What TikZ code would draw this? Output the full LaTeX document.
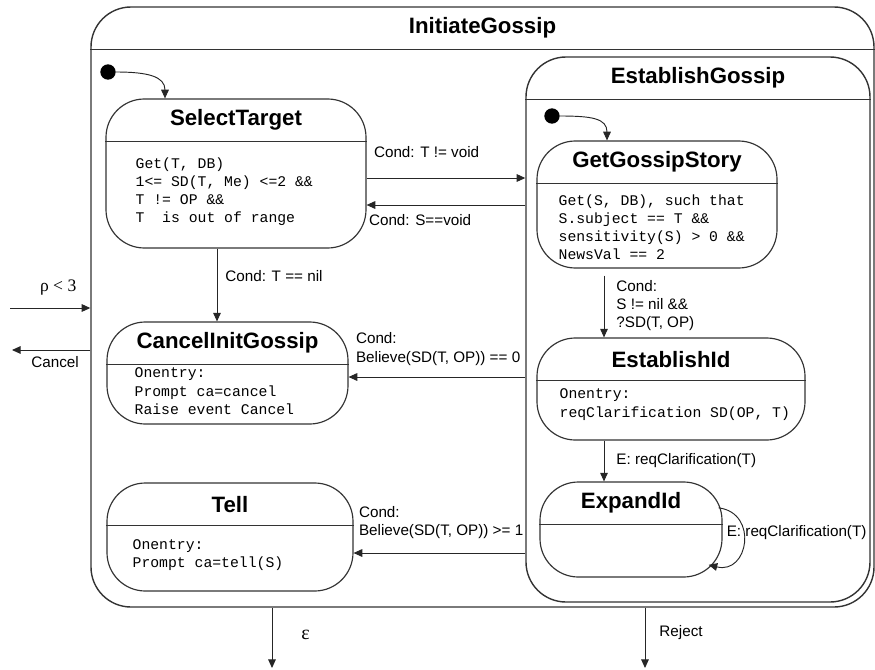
\documentclass[tikz,border=0pt]{standalone}
\usepackage{fontspec}
\setmainfont{Liberation Serif}
\setsansfont{Liberation Sans}
\setmonofont{Liberation Mono}
\usetikzlibrary{arrows.meta,calc,positioning}
\newcommand\titlefont{\sffamily\bfseries\fontsize{19}{22}\selectfont}
\newcommand\codefont{\ttfamily\fontsize{12.6}{15.4}\selectfont}
\newcommand\labelfont{\sffamily\fontsize{13}{15.6}\selectfont}

\begin{document}
\begin{tikzpicture}[
  x=0.3mm,y=-0.3mm,
  font=\labelfont,
  >={Triangle[length=2.6mm,width=2.3mm]},
  state/.style={draw=black!80,line width=1pt,rounded corners=11.5mm,inner sep=0pt},
  super/.style={state,line width=1.2pt,rounded corners=12mm},
  head/.style={anchor=north,inner sep=0pt,minimum height=12.9mm,font=\titlefont},
  divider/.style={draw=black!80,line width=1pt},
  code/.style={anchor=north west,inner sep=0pt,align=left,font=\codefont},
  trans/.style={->,draw=black!85,line width=0.8pt},
  lbl/.style={inner sep=0pt,align=left,font=\labelfont},
  start/.style={circle,fill=black,inner sep=0pt,minimum size=4.6mm}
]
\useasboundingbox (0,0) rectangle (875,669);

\node[super,minimum width=234.9mm,minimum height=180mm] (init) at (482.5,307) {};
\node[head] (initT) at (init.north) {InitiateGossip};
\node[super,minimum width=103.2mm,minimum height=163.5mm] (est) at (698,329.5) {};
\node[head] (estT) at (est.north) {EstablishGossip};

\node[state,minimum width=78mm,minimum height=44.7mm] (sel) at (236,173.5) {};
\node[head] (selT) at (sel.north) {SelectTarget};
\node[code] (selB) at ([xshift=9mm,yshift=-4.8mm]sel.west |- selT.south)
  {Get(T, DB)\\1<= SD(T, Me) <=2 \&\&\\T != OP \&\&\\T\ \ is out of range};

\node[state,minimum width=72.3mm,minimum height=30.6mm] (can) at (227.5,373) {};
\node[head] (canT) at (can.north) {CancelInitGossip};
\node[code] (canB) at ([xshift=8.4mm,yshift=-0.9mm]can.west |- canT.south)
  {Onentry:\\Prompt ca=cancel\\Raise event Cancel};

\node[state,minimum width=73.8mm,minimum height=32.4mm] (tell) at (230,537) {};
\node[head] (tellT) at (tell.north) {Tell};
\node[code] (tellB) at ([xshift=7.8mm,yshift=-4.1mm]tell.west |- tellT.south)
  {Onentry:\\Prompt ca=tell(S)};

\node[state,minimum width=72mm,minimum height=38.1mm] (get) at (657,204.5) {};
\node[head] (getT) at (get.north) {GetGossipStory};
\node[code] (getB) at ([xshift=6.6mm,yshift=-3.3mm]get.west |- getT.south)
  {Get(S, DB), such that\\S.subject == T \&\&\\sensitivity(S) > 0 \&\&\\NewsVal == 2};

\node[state,minimum width=80.4mm,minimum height=30.6mm] (eid) at (671,389) {};
\node[head] (eidT) at (eid.north) {EstablishId};
\node[code] (eidB) at ([xshift=6.9mm,yshift=-2.4mm]eid.west |- eidT.south)
  {Onentry:\\reqClarification SD(OP, T)};

\node[state,minimum width=54.6mm,minimum height=28.5mm] (exp) at (631,529.5) {};
\node[head] (expT) at (exp.north) {ExpandId};

\draw[divider,line width=1.2pt] (init.west |- initT.south) -- (init.east |- initT.south);
\draw[divider,line width=1.2pt] (est.west |- estT.south) -- (est.east |- estT.south);
\draw[divider] (sel.west |- selT.south) -- (sel.east |- selT.south);
\draw[divider] (can.west |- canT.south) -- (can.east |- canT.south);
\draw[divider] (tell.west |- tellT.south) -- (tell.east |- tellT.south);
\draw[divider] (get.west |- getT.south) -- (get.east |- getT.south);
\draw[divider] (eid.west |- eidT.south) -- (eid.east |- eidT.south);
\draw[divider] (exp.west |- expT.south) -- (exp.east |- expT.south);

\node[start] (dot1) at (108,72) {};
\node[start] (dot2) at (552,116) {};
\coordinate (rin) at (10,308);
\coordinate (cout) at (12,350);
\coordinate (epsend) at (272,668);
\coordinate (rejend) at (645,668);
\coordinate (gx) at (604,0);

\draw[trans] (dot1.east) .. controls +(32,0) and +(0,-22) .. ([xshift=-21.3mm]sel.north);
\draw[trans] (dot2.east) .. controls +(32,0) and +(0,-22) .. ([xshift=-15mm]get.north);

\draw[trans] ([yshift=-1.35mm]sel.east) -- ([yshift=-1.35mm]sel.east -| est.west)
  node[lbl,pos=0,above right=6mm and 2.1mm] {Cond: T != void};
\draw[trans] ([yshift=-9.45mm]sel.east -| est.west) -- ([yshift=-9.45mm]sel.east)
  node[lbl,pos=1,below right=2.8mm and 0.6mm] {Cond: S==void};
\draw[trans] ([xshift=-5.7mm]sel.south) -- ([xshift=-5.7mm]sel.south |- can.north)
  node[lbl,pos=0.38,right=2.4mm] {Cond: T == nil};
\draw[trans] ([yshift=-1.2mm]can.east -| est.west) -- ([yshift=-1.2mm]can.east)
  node[lbl,pos=1,above right=3.4mm and 2.1mm] {Cond:\\Believe(SD(T, OP)) == 0};
\draw[trans] ([yshift=-4.8mm]tell.east -| est.west) -- ([yshift=-4.8mm]tell.east)
  node[lbl,pos=1,above right=4.2mm and 1.5mm] {Cond:\\Believe(SD(T, OP)) >= 1};

\draw[trans] ([yshift=-2.1mm]gx |- get.south) -- (gx |- eid.north)
  node[lbl,pos=0,below right=1.2mm and 3.6mm] {Cond:\\S != nil \&\&\\?SD(T, OP)};
\draw[trans] (gx |- eid.south) -- (gx |- exp.north)
  node[lbl,pos=0.48,right=3.6mm] {E: reqClarification(T)};
\draw[trans] ([xshift=-1.2mm,yshift=6.5mm]exp.east) .. controls +(40,5) and +(40,10)
  .. ([xshift=-4.2mm,yshift=-10.6mm]exp.east);
\node[lbl,right=1.2mm of exp.east,yshift=-1mm] (loopL) {E: reqClarification(T)};

\draw[trans] (rin) -- (rin -| init.west)
  node[pos=0.6,above=2.5mm,font=\rmfamily\fontsize{15}{18}\selectfont] {ρ < 3};
\draw[trans] (init.west |- cout) -- (cout)
  node[lbl,pos=0.45,below=1.8mm] {Cancel};
\draw[trans] (init.south -| epsend) -- (epsend)
  node[pos=0.45,right=7.5mm,font=\rmfamily\fontsize{17}{20}\selectfont] {ε};
\draw[trans] (init.south -| rejend) -- (rejend)
  node[lbl,pos=0.41,right=4.2mm] {Reject};
\end{tikzpicture}
\end{document}
